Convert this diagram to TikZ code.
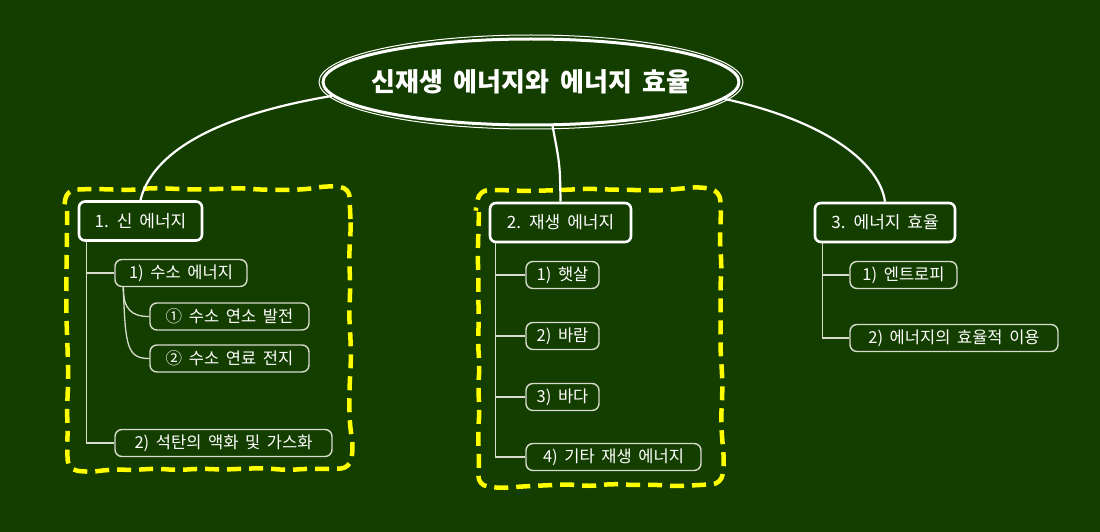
\documentclass[tikz,border=0pt]{standalone}
\usepackage{fontspec}
\setmainfont{Noto Sans CJK KR}[WordSpace=1.8]
\usetikzlibrary{shapes.geometric,decorations.pathmorphing,calc}
\definecolor{bg}{RGB}{20,62,0}
\definecolor{lgray}{RGB}{215,220,205}
\definecolor{yel}{RGB}{255,255,0}
\begin{document}
\begin{tikzpicture}[x=1pt,y=-1pt,
  rootnode/.style={ellipse, draw=white, line width=3pt, minimum width=416pt, minimum height=86pt,
    inner sep=0pt, text=white, font=\fontsize{26}{30}\selectfont\bfseries},
  lvlone/.style={draw=white, line width=2.6pt, rounded corners=6pt, text=white,
    font=\fontsize{17}{20}\selectfont, inner sep=0pt, minimum height=39pt},
  lvltwo/.style={draw=lgray, line width=1.4pt, rounded corners=7pt, text=white,
    font=\fontsize{16.5}{19}\selectfont, inner sep=0pt, minimum height=27pt},
  mainlink/.style={draw=white, line width=2.2pt},
  treelink/.style={draw=lgray, line width=1.3pt},
  wavybox/.style={draw=yel, line width=4.5pt, dash pattern=on 14pt off 8pt, line join=round, rounded corners=9pt}
]
\fill[bg] (0,0) rectangle (1100,532);
\useasboundingbox (0,0) rectangle (1100,532);

% yellow dashed wavy boxes
\pgfmathsetmacro{\dummyseed}{0}
\pgfmathsetseed{11}
\draw[wavybox] decorate[decoration={random steps, segment length=22pt, amplitude=1.4pt}]
  {[rounded corners=22pt] (67,189) rectangle (350,469)};
\draw[wavybox] decorate[decoration={random steps, segment length=22pt, amplitude=1.4pt}]
  {[rounded corners=22pt] (479,190) rectangle (721,485)};

% root
\node[rootnode] (root) at (531,82) {\makebox[0pt]{신재생 에너지와 에너지 효율}};
\draw[white, line width=1pt] (root.center) ellipse (212 and 47);

% level 1
\node[lvlone, minimum width=123pt] (n1) at (140.5,221) {1. 신 에너지};
\node[lvlone, minimum width=141pt] (n2) at (560.5,222.5) {2. 재생 에너지};
\node[lvlone, minimum width=140pt] (n3) at (885,222.5) {3. 에너지 효율};

% level 2
\node[lvltwo, minimum width=132pt] (n11) at (181,273) {1) 수소 에너지};
\node[lvltwo, minimum width=159pt] (n111) at (229.5,316.5) {① 수소 연소 발전};
\node[lvltwo, minimum width=159pt] (n112) at (229.5,358.5) {② 수소 연료 전지};
\node[lvltwo, minimum width=217pt] (n12) at (223.5,443) {2) 석탄의 액화 및 가스화};

\node[lvltwo, minimum width=73pt] (n21) at (562.5,275) {1) 햇살};
\node[lvltwo, minimum width=73pt] (n22) at (562.5,336) {2) 바람};
\node[lvltwo, minimum width=73pt] (n23) at (562.5,397) {3) 바다};
\node[lvltwo, minimum width=175pt] (n24) at (613.5,457) {4) 기타 재생 에너지};

\node[lvltwo, minimum width=107pt] (n31) at (903.5,275) {1) 엔트로피};
\node[lvltwo, minimum width=208pt] (n32) at (954,338) {2) 에너지의 효율적 이용};

% root links
\draw[mainlink] (root.184) .. controls (200,118) and (150,160) .. (n1.north);
\draw[mainlink] (root.296) .. controls (560,165) .. (n2.north);
\draw[mainlink] (root.355) .. controls (830,122) and (880,165) .. (n3.north);

% tree links
\coordinate (t1) at ($(n1.south west)+(9,0)$);
\draw[treelink] (t1) |- (n11.west);
\draw[treelink] (t1) |- (n12.west);
\coordinate (t11) at ($(n11.south west)+(9,0)$);
\draw[treelink] (t11) .. controls ($(t11)+(0,22)$) and ($(n111.west)+(-18,0)$) .. (n111.west);
\draw[treelink] (t11) .. controls ($(t11)+(2,60)$) and ($(n112.west)+(-22,0)$) .. (n112.west);

\coordinate (t2) at ($(n2.south west)+(7,0)$);
\draw[treelink] (t2) |- (n21.west);
\draw[treelink] (t2) |- (n22.west);
\draw[treelink] (t2) |- (n23.west);
\draw[treelink] (t2) |- (n24.west);

\coordinate (t3) at ($(n3.south west)+(9,0)$);
\draw[treelink] (t3) |- (n31.west);
\draw[treelink] (t3) |- (n32.west);
\end{tikzpicture}
\end{document}
